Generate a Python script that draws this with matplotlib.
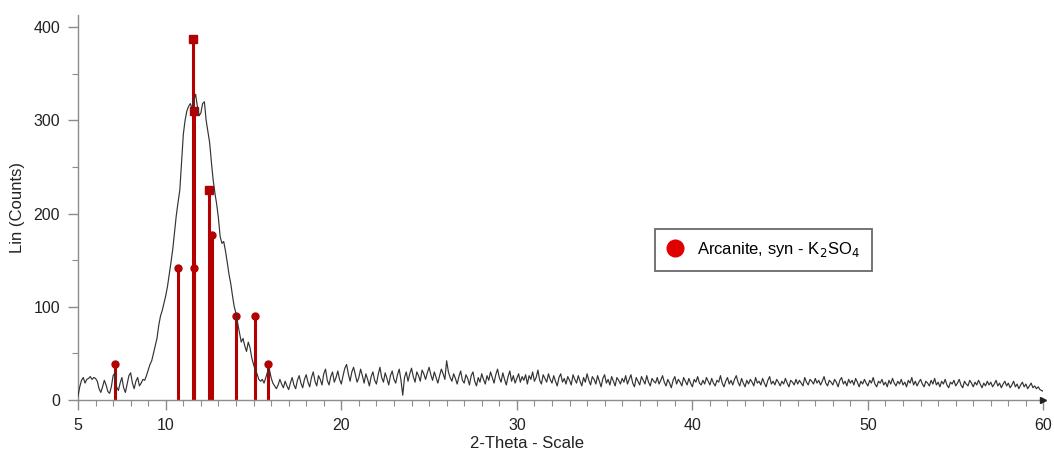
import matplotlib
matplotlib.use("Agg")
import matplotlib.pyplot as plt
from matplotlib.lines import Line2D
from matplotlib.ticker import MultipleLocator, FixedLocator
import numpy as np

plt.rcParams['font.family'] = ['Liberation Sans', 'DejaVu Sans']

# Diffractogram, 2-theta from 5 to 60 deg in 0.1 deg steps (one row per degree)
theta_start, theta_step = 5.0, 0.1
counts = [
    4, 14, 21, 24, 18, 22, 23, 25, 22, 24,            # 5
    23, 20, 12, 8, 14, 21, 16, 9, 7, 14,              # 6
    26, 29, 14, 10, 18, 24, 13, 8, 17, 26,            # 7
    29, 18, 12, 20, 24, 15, 18, 22, 21, 26,           # 8
    32, 38, 42, 50, 58, 66, 80, 90, 96, 104,          # 9
    112, 122, 135, 148, 162, 180, 198, 212, 225, 255, # 10
    285, 300, 310, 315, 318, 313, 322, 328, 315, 305, # 11
    308, 318, 320, 300, 288, 276, 255, 236, 222, 210, # 12
    195, 175, 168, 170, 160, 148, 135, 125, 112, 100, # 13
    93, 82, 72, 62, 66, 58, 52, 62, 56, 45,           # 14
    38, 32, 28, 22, 20, 22, 18, 24, 30, 33,           # 15
    24, 18, 15, 12, 16, 22, 17, 13, 20, 15,           # 16
    11, 18, 24, 16, 12, 21, 26, 18, 13, 22,           # 17
    27, 19, 14, 24, 30, 20, 15, 26, 22, 16,           # 18
    28, 33, 21, 16, 25, 30, 19, 24, 31, 22,           # 19
    17, 26, 34, 38, 28, 20, 30, 35, 27, 19,           # 20
    24, 33, 26, 18, 28, 22, 15, 25, 30, 21,           # 21
    17, 27, 35, 24, 19, 29, 23, 16, 26, 31,           # 22
    22, 18, 27, 33, 21, 5, 24, 30, 20, 28,            # 23
    34, 25, 19, 30, 26, 20, 32, 28, 22, 29,           # 24
    35, 27, 21, 30, 24, 18, 26, 33, 28, 22,           # 25
    42, 30, 24, 20, 28, 23, 17, 25, 31, 21,           # 26
    18, 27, 23, 16, 26, 30, 20, 15, 24, 19,           # 27
    28, 22, 17, 26, 21, 30, 24, 18, 27, 33,           # 28
    24, 19, 29, 22, 16, 25, 31, 20, 26, 18,           # 29
    23, 28, 19, 25, 21, 27, 17, 26, 22, 30,           # 30
    20, 24, 32, 21, 17, 27, 23, 19, 28, 22,           # 31
    18, 26, 20, 15, 24, 28, 19, 23, 17, 25,           # 32
    21, 16, 27, 22, 18, 26, 20, 15, 24, 19,           # 33
    28, 21, 16, 25, 22, 17, 26, 20, 14, 23,           # 34
    27, 18, 22, 16, 25, 20, 15, 24, 21, 17,           # 35
    23, 19, 26, 17, 22, 27, 18, 14, 24, 20,           # 36
    16, 25, 21, 17, 26, 19, 15, 23, 20, 18,           # 37
    24, 17, 21, 26, 19, 15, 22, 18, 13, 21,           # 38
    25, 17, 22, 19, 15, 24, 20, 16, 23, 18,           # 39
    14, 22, 19, 25, 18, 16, 21, 17, 24, 20,           # 40
    16, 23, 18, 15, 21, 19, 26, 18, 14, 20,           # 41
    24, 17, 21, 16, 22, 26, 19, 15, 23, 18,           # 42
    14, 21, 17, 22, 19, 15, 24, 18, 20, 16,           # 43
    23, 18, 14, 21, 25, 17, 20, 16, 22, 19,           # 44
    15, 20, 17, 23, 18, 14, 21, 19, 16, 22,           # 45
    17, 21, 18, 15, 24, 19, 16, 22, 20, 17,           # 46
    23, 18, 21, 16, 20, 25, 18, 15, 21, 19,           # 47
    16, 22, 19, 14, 21, 24, 17, 20, 15, 22,           # 48
    18, 21, 16, 23, 19, 14, 20, 17, 22, 18,           # 49
    15, 21, 18, 24, 17, 14, 20, 18, 22, 16,           # 50
    19, 14, 21, 17, 23, 18, 15, 20, 17, 22,           # 51
    16, 19, 14, 21, 18, 24, 16, 20, 15, 19,           # 52
    22, 17, 14, 20, 18, 15, 21, 17, 23, 16,           # 53
    19, 14, 20, 17, 22, 16, 13, 19, 17, 21,           # 54
    15, 18, 22, 16, 13, 20, 17, 15, 21, 18,           # 55
    14, 19, 16, 21, 17, 13, 18, 15, 20, 16,           # 56
    19, 14, 17, 21, 15, 18, 13, 17, 20, 15,           # 57
    18, 13, 16, 20, 14, 17, 12, 16, 19, 14,           # 58
    17, 12, 15, 18, 13, 15, 12, 14, 11, 10,           # 59
    9,                                                # 60
]
two_theta = theta_start + theta_step * np.arange(len(counts))

# Arcanite reference lines (position, intensity, marker)
ref_pos = [7.11, 10.68, 11.53, 11.63, 11.63, 12.46, 12.64, 14.00, 15.07, 15.84]
ref_int = [38, 142, 387, 310, 142, 225, 177, 90, 90, 38]
ref_mark = ['o', 'o', 's', 's', 'o', 's', 'o', 'o', 'o', 'o']

stick_color = '#b30000'

fig = plt.figure(figsize=(10.54, 4.57), dpi=100)
ax = fig.add_axes([0.074, 0.125, 0.916, 0.842])

ax.vlines(ref_pos, 0, ref_int, color=stick_color, linewidth=2.2, zorder=2)
for x, y, m in zip(ref_pos, ref_int, ref_mark):
    ax.plot(x, y, marker=m, color=stick_color, markersize=6 if m == 's' else 5,
            linestyle='none', zorder=3)

ax.plot(two_theta, counts, color='#333333', linewidth=0.85, zorder=4)

ax.set_xlim(5, 60)
ax.set_ylim(0, 413)

for side in ('top', 'right'):
    ax.spines[side].set_visible(False)
for side in ('left', 'bottom'):
    ax.spines[side].set_color('#8c8c8c')
    ax.spines[side].set_linewidth(1.0)

# arrow head at the end of the 2-theta axis
ax.plot(1, 0, marker='>', color='#222222', markersize=4,
        transform=ax.get_yaxis_transform(), clip_on=False, zorder=5)

ax.xaxis.set_major_locator(FixedLocator([5, 10, 20, 30, 40, 50, 60]))
ax.xaxis.set_minor_locator(MultipleLocator(1))
ax.yaxis.set_major_locator(MultipleLocator(100))
ax.yaxis.set_minor_locator(MultipleLocator(50))
ax.tick_params(which='major', direction='out', length=7, width=1.0,
               color='#8c8c8c', labelsize=11.5, labelcolor='#222222', pad=6)
ax.tick_params(which='minor', direction='out', length=4, width=0.8, color='#8c8c8c')

ax.set_xlabel('2-Theta - Scale', fontsize=12, color='#222222')
ax.xaxis.set_label_coords(0.465, -0.095)
ax.set_ylabel('Lin (Counts)', fontsize=12, color='#222222')
ax.yaxis.set_label_coords(-0.055, 0.5)

handle = Line2D([], [], marker='o', color='#e00000', linestyle='none', markersize=12)
leg = ax.legend([handle], ['Arcanite, syn - K$_2$SO$_4$'], loc='center',
                bbox_to_anchor=(0.710, 0.390), frameon=True, fancybox=False,
                fontsize=12, handletextpad=0.8, borderpad=0.7, handlelength=1.0)
leg.get_frame().set_edgecolor('#444444')
leg.get_frame().set_linewidth(1.3)

fig.savefig('out.png', dpi=100, facecolor='white')
